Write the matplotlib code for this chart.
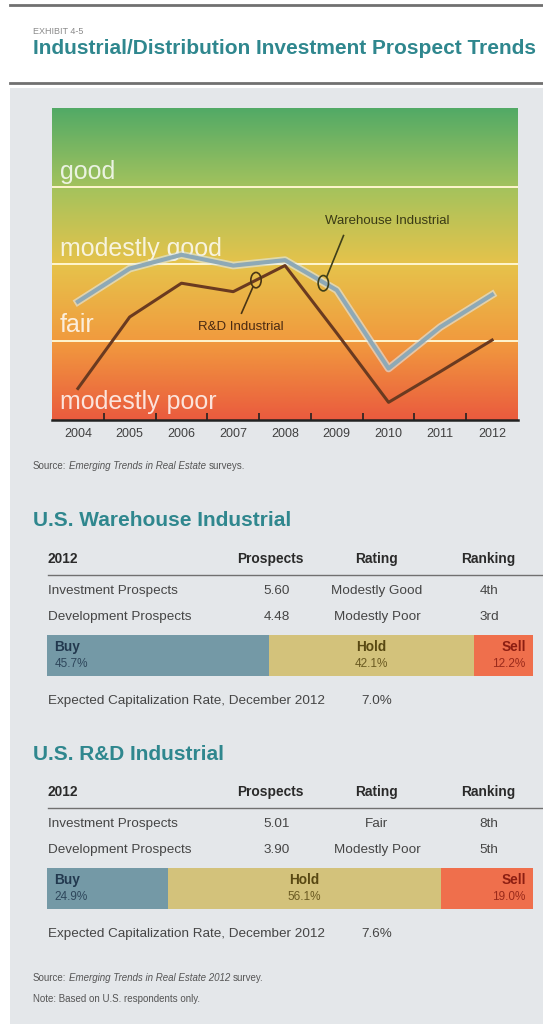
import matplotlib.pyplot as plt
import numpy as np
from matplotlib.colors import LinearSegmentedColormap
from matplotlib.patches import Rectangle, Circle
from matplotlib.lines import Line2D

W, H = 543, 1024

# ---- data ----
years = ['2004', '2005', '2006', '2007', '2008', '2009', '2010', '2011', '2012']
warehouse = [5.51, 5.94, 6.12, 5.98, 6.05, 5.66, 4.64, 5.18, 5.60]
rnd = [4.38, 5.31, 5.75, 5.64, 5.98, 5.10, 4.20, 4.60, 5.01]
rating_levels = [4, 5, 6, 7]
rating_names = ['modestly poor', 'fair', 'modestly good', 'good']

columns = ['2012', 'Prospects', 'Rating', 'Ranking']
wh_rows = [('Investment Prospects', '5.60', 'Modestly Good', '4th'),
           ('Development Prospects', '4.48', 'Modestly Poor', '3rd')]
wh_split = [45.7, 42.1, 12.2]
wh_cap = '7.0%'
rd_rows = [('Investment Prospects', '5.01', 'Fair', '8th'),
           ('Development Prospects', '3.90', 'Modestly Poor', '5th')]
rd_split = [24.9, 56.1, 19.0]
rd_cap = '7.6%'
split_names = ['Buy', 'Hold', 'Sell']

SANS = ['Liberation Sans', 'DejaVu Sans']
TEAL = '#2f878e'
BODY = '#454545'

fig = plt.figure(figsize=(W / 100, H / 100), dpi=100)
fig.patch.set_facecolor('white')


def fx(px):
    return px / W


def fy(py):
    return 1 - py / H


def ftext(x, y, s, **kw):
    kw.setdefault('family', SANS)
    return fig.text(fx(x), fy(y), s, **kw)


def rich_text(x, y, parts, **kw):
    # draw pieces one after another, each with its own style
    r = fig.canvas.get_renderer()
    for s, style in parts:
        t = ftext(x, y, s, style=style, **kw)
        x += t.get_window_extent(renderer=r).width + 2.5


# panel background and header rules
fig.patches.append(Rectangle((fx(10), 0), fx(533), fy(88), transform=fig.transFigure,
                             facecolor='#e4e7ea', edgecolor='none', zorder=-5))
fig.lines.append(Line2D([fx(10), 1], [fy(5), fy(5)], transform=fig.transFigure,
                        color='#707070', lw=2))
fig.lines.append(Line2D([fx(10), 1], [fy(83), fy(83)], transform=fig.transFigure,
                        color='#707070', lw=2))
ftext(33, 31, 'EXHIBIT 4-5', fontsize=6.5, color='#8a8a8a', va='center')
ftext(33, 48, 'Industrial/Distribution Investment Prospect Trends', fontsize=15,
      color=TEAL, fontweight='bold', va='center')

# ---- trend chart ----
ax = fig.add_axes([fx(52), fy(420), fx(518) - fx(52), fy(108) - fy(420)])
x = np.arange(len(years))
ax.set_xlim(-0.5, len(years) - 0.5)
ax.set_ylim(3.97, 8.03)

grad = LinearSegmentedColormap.from_list('prospects', [
    (0.0, '#ea5b3e'), (0.25, '#f19a3e'), (0.5, '#e6c34b'),
    (0.75, '#a3c25d'), (1.0, '#52aa66')])
ax.imshow(np.linspace(0, 1, 256).reshape(-1, 1), cmap=grad, origin='lower',
          extent=[-0.5, len(years) - 0.5, 3.97, 8.03], aspect='auto', zorder=0)

for lv in rating_levels[1:]:
    ax.axhline(lv, color='#fff6cf', lw=1.4, zorder=1)
for lv, name in zip(rating_levels, rating_names):
    ax.text(-0.35, lv + 0.2, name, fontsize=18, color='white', alpha=0.82,
            family=SANS, va='center', ha='left', zorder=2)

ax.plot(x, warehouse, color='#dfe9ee', lw=5.5, alpha=0.6, zorder=3, solid_joinstyle='round')
ax.plot(x, warehouse, color='#8ea9b6', lw=3, zorder=4, solid_joinstyle='round')
ax.plot(x, rnd, color='#6a3a20', lw=2.2, zorder=5, solid_joinstyle='round')

# callouts
ax.add_patch(Circle((3.44, 5.79), 0.1, transform=ax.transData, fill=False,
                    ec='#4a3515', lw=1.2, zorder=6))
ax.plot([3.38, 3.16], [5.70, 5.36], color='#4a3515', lw=1.2, zorder=6)
ax.text(3.15, 5.18, 'R&D Industrial', fontsize=9.5, color='#4a2a12', family=SANS,
        ha='center', va='center', zorder=6)
ax.add_patch(Circle((4.74, 5.75), 0.1, transform=ax.transData, fill=False,
                    ec='#3f3f1a', lw=1.2, zorder=6))
ax.plot([4.81, 5.13], [5.84, 6.37], color='#3f3f1a', lw=1.2, zorder=6)
ax.text(5.98, 6.56, 'Warehouse Industrial', fontsize=9.5, color='#3a3a15', family=SANS,
        ha='center', va='center', zorder=6)

ax.set_xticks(x)
ax.set_xticklabels(years, fontsize=9, color='#404040', family=SANS)
ax.set_xticks(x[:-1] + 0.5, minor=True)
ax.tick_params(axis='x', which='major', length=0, pad=6)
ax.tick_params(axis='x', which='minor', direction='in', length=5, width=1.2, color='#222222')
ax.set_yticks([])
for sp in ['top', 'left', 'right']:
    ax.spines[sp].set_visible(False)
ax.spines['bottom'].set_color('#222222')
ax.spines['bottom'].set_linewidth(1.8)

rich_text(33, 466, [('Source:', 'normal'), ('Emerging Trends in Real Estate', 'italic'),
                    ('surveys.', 'normal')], fontsize=7, color='#555555', va='center')


# ---- tables ----
def draw_table(top, heading, rows, split, cap):
    ftext(33, top, heading, fontsize=15, color=TEAL, fontweight='bold', va='center')
    hy = top + 38
    ftext(48, hy, columns[0], fontsize=9.9, fontweight='bold', color='#2a2a2a', va='center')
    for cx, name in zip([270, 377, 488], columns[1:]):
        ftext(cx, hy, name, fontsize=9.9, fontweight='bold', color='#2a2a2a',
              va='center', ha='center')
    fig.lines.append(Line2D([fx(48), 1], [fy(top + 54), fy(top + 54)],
                            transform=fig.transFigure, color='#707070', lw=1))
    for i, row in enumerate(rows):
        ry = top + 70 + 26 * i
        ftext(48, ry, row[0], fontsize=9.7, color=BODY, va='center')
        for cx, val in zip([277, 377, 489], row[1:]):
            ftext(cx, ry, val, fontsize=9.7, color=BODY, va='center', ha='center')

    bax = fig.add_axes([fx(47), fy(top + 155), fx(533) - fx(47), fy(top + 114) - fy(top + 155)])
    colors = ['#7499a6', '#d3c27b', '#ef6f4c']
    tcolors = ['#22384e', '#584812', '#8c1e12']
    left = 0
    for k, (v, c) in enumerate(zip(split, colors)):
        bax.barh(0, v, left=left, height=1, color=c, edgecolor='none')
        if k == 0:
            tx, ha = left + 1.5, 'left'
        elif k == 1:
            tx, ha = left + v / 2, 'center'
        else:
            tx, ha = left + v - 1.5, 'right'
        bax.text(tx, 0.2, split_names[k], fontsize=9.8, fontweight='bold', color=tcolors[k],
                 family=SANS, ha=ha, va='center')
        bax.text(tx, -0.2, f'{v:.1f}%', fontsize=8.5, color=tcolors[k], alpha=0.85,
                 family=SANS, ha=ha, va='center')
        left += v
    bax.set_xlim(0, sum(split))
    bax.set_ylim(-0.5, 0.5)
    bax.axis('off')

    ftext(48, top + 180, 'Expected Capitalization Rate, December 2012', fontsize=9.7,
          color=BODY, va='center')
    ftext(377, top + 180, cap, fontsize=9.7, color=BODY, va='center', ha='center')


draw_table(521, 'U.S. Warehouse Industrial', wh_rows, wh_split, wh_cap)
draw_table(754, 'U.S. R&D Industrial', rd_rows, rd_split, rd_cap)

rich_text(33, 978, [('Source:', 'normal'), ('Emerging Trends in Real Estate 2012', 'italic'),
                    ('survey.', 'normal')], fontsize=7, color='#555555', va='center')
ftext(33, 999, 'Note: Based on U.S. respondents only.', fontsize=7, color='#555555',
      va='center')

fig.savefig('out.png', dpi=100)
